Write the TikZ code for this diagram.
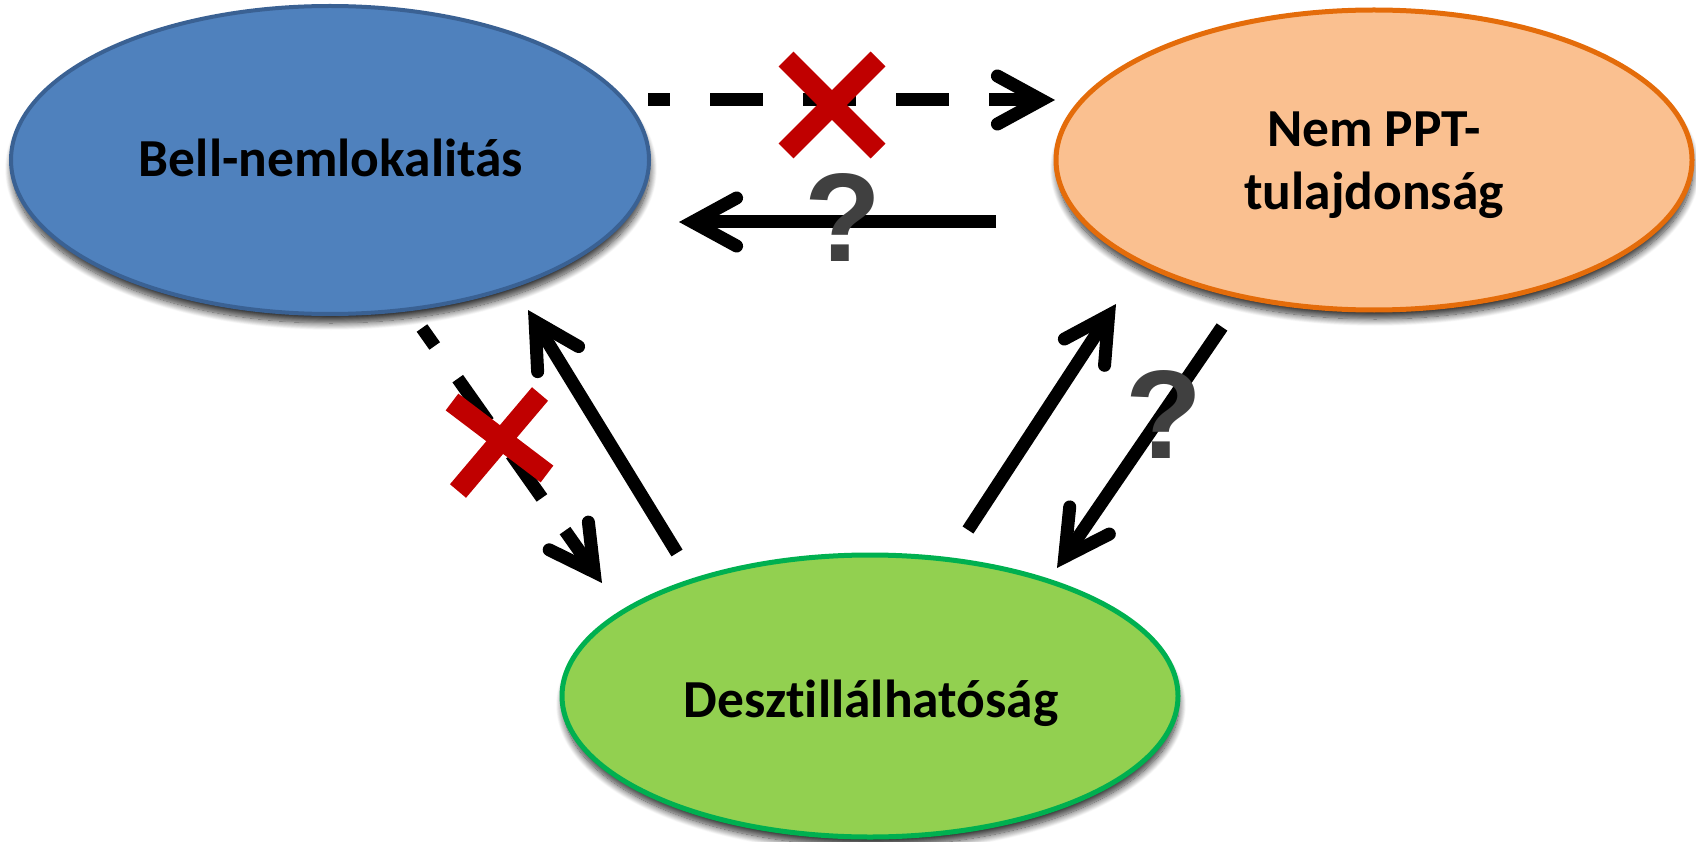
\documentclass[tikz,border=0pt]{standalone}
\usepackage{fontspec}
\setmainfont{Carlito}[Ligatures=NoCommon]
\newfontfamily\qfont{Liberation Sans}
\usetikzlibrary{arrows.meta,shapes.geometric,shadows.blur}

\definecolor{bellfill}{HTML}{4F81BD}
\definecolor{bellline}{HTML}{3A6193}
\definecolor{pptfill}{HTML}{FAC090}
\definecolor{pptline}{HTML}{E46C0A}
\definecolor{distfill}{HTML}{92D050}
\definecolor{distline}{HTML}{00B050}
\definecolor{crossred}{HTML}{C00000}
\definecolor{qgray}{HTML}{404040}

\begin{document}
\begin{tikzpicture}[x=1pt,y=-1pt,
  oval/.style={ellipse, inner sep=0pt, line width=#1,
    blur shadow={shadow xshift=1pt, shadow yshift=-9pt,
      shadow opacity=80, shadow blur radius=7pt, shadow blur steps=14}},
  lbl/.style={font=\fontsize{53.5}{63}\selectfont\bfseries, inner sep=0pt, align=center},
  link/.style={line width=13pt, draw=black,
    -{Straight Barb[length=44pt, width=48pt, line cap=round, line join=miter]}},
  blocked/.style={link, dash pattern=on 53pt off 40pt, dash phase=31pt},
  cross/.style={line width=21pt, draw=crossred, line cap=butt},
  qmark/.style={text=qgray, font=\qfont\fontsize{126}{126}\selectfont\bfseries, inner sep=0pt}
]
\useasboundingbox (0,0) rectangle (1696,842);

% the three properties
\node[oval=4pt, fill=bellfill, draw=bellline, minimum width=638pt, minimum height=308pt] (bell) at (330,160) {};
\node[oval=5pt, fill=pptfill, draw=pptline, minimum width=636pt, minimum height=300pt] (ppt) at (1374,160) {};
\node[oval=5pt, fill=distfill, draw=distline, minimum width=616pt, minimum height=282pt] (dist) at (870,696) {};

\node[lbl, anchor=base] (bellt) at (331,177) {Bell-nemlokalitás};
\node[lbl] (pptt) at (1374,165) {Nem PPT-\\tulajdonság};
\node[lbl, anchor=base] (distt) at (871,717) {Desztillálhatóság};

% connector end points
\coordinate (bp) at (648,100);  \coordinate (pb) at (1055,100);
\coordinate (ps) at (996,222);  \coordinate (bs) at (679,222);
\coordinate (bd) at (422,328);  \coordinate (db) at (602,583);
\coordinate (du) at (677,553);  \coordinate (bu) at (528,310);
\coordinate (dp) at (968,530);  \coordinate (pu) at (1116,304);
\coordinate (pd) at (1222,327); \coordinate (dd) at (1057,568);

% implications
\draw[blocked] (bp) -- (pb);
\draw[link] (ps) -- (bs);
\draw[blocked] (bd) -- (db);
\draw[link] (du) -- (bu);
\draw[link] (dp) -- (pu);
\draw[link] (pd) -- (dd);

% refuted implications
\draw[cross] (786,59) -- (878,151);
\draw[cross] (878,59) -- (786,151);
\draw[cross] (452,402) -- (547,474);
\draw[cross] (540,394) -- (458,491);

% open questions
\node[qmark] (q1) at (843,218) {?};
\node[qmark] (q2) at (1164,415) {?};
\end{tikzpicture}
\end{document}
